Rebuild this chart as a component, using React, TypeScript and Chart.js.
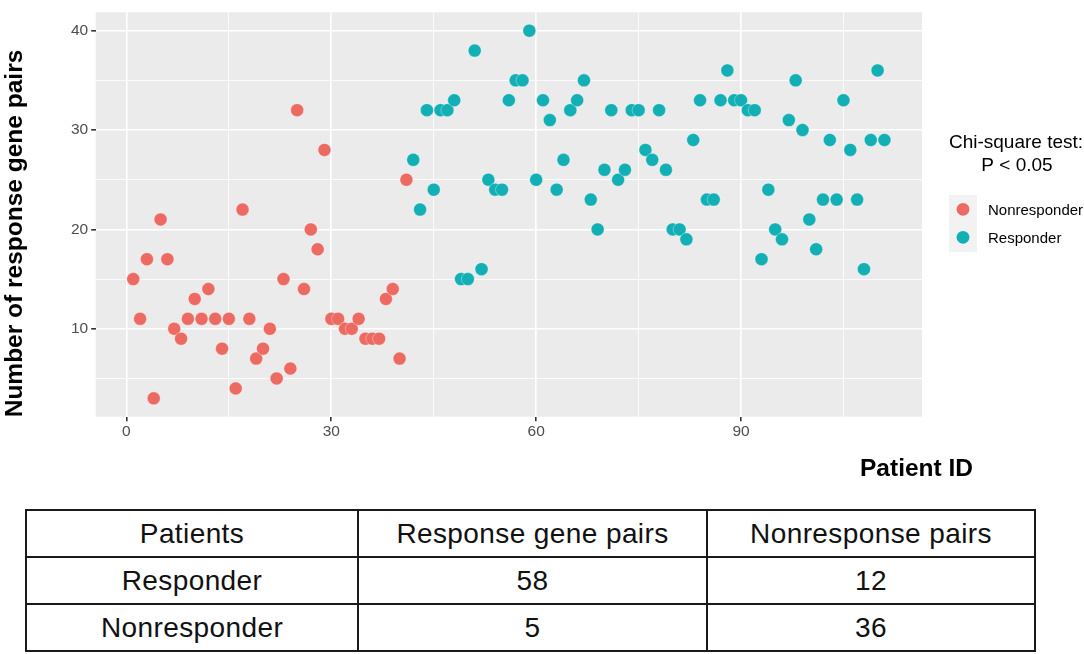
import React, { useEffect, useRef } from "react";
import { Chart, registerables } from "chart.js";

Chart.register(...registerables);

const FONT = '"Liberation Sans", Arial, Helvetica, sans-serif';

// ---- data ----
const nonresponderIds = [
  1, 2, 3, 4, 5, 6, 7, 8, 9, 10, 11, 12, 13, 14, 15, 16, 17, 18, 19, 20, 21,
  22, 23, 24, 25, 26, 27, 28, 29, 30, 31, 32, 33, 34, 35, 36, 37, 38, 39, 40, 41,
];
const nonresponderValues = [
  15, 11, 17, 3, 21, 17, 10, 9, 11, 13, 11, 14, 11, 8, 11, 4, 22, 11, 7, 8, 10,
  5, 15, 6, 32, 14, 20, 18, 28, 11, 11, 10, 10, 11, 9, 9, 9, 13, 14, 7, 25,
];
const responderIds = [
  42, 43, 44, 45, 46, 47, 48, 49, 50, 51, 52, 53, 54, 55, 56, 57, 58, 59, 60,
  61, 62, 63, 64, 65, 66, 67, 68, 69, 70, 71, 72, 73, 74, 75, 76, 77, 78, 79,
  80, 81, 82, 83, 84, 85, 86, 87, 88, 89, 90, 91, 92, 93, 94, 95, 96, 97, 98,
  99, 100, 101, 102, 103, 104, 105, 106, 107, 108, 109, 110, 111,
];
const responderValues = [
  27, 22, 32, 24, 32, 32, 33, 15, 15, 38, 16, 25, 24, 24, 33, 35, 35, 40, 25,
  33, 31, 24, 27, 32, 33, 35, 23, 20, 26, 32, 25, 26, 32, 32, 28, 27, 32, 26,
  20, 20, 19, 29, 33, 23, 23, 33, 36, 33, 33, 32, 32, 17, 24, 20, 19, 31, 35,
  30, 21, 18, 23, 29, 23, 33, 28, 23, 16, 29, 36, 29,
];

const xTicks = [0, 15, 30, 45, 60, 75, 90, 105];
const xLabelTicks = [0, 30, 60, 90];
const yTicks = [5, 10, 15, 20, 25, 30, 35, 40];
const yLabelTicks = [10, 20, 30, 40];

const seriesLabels = ["Nonresponder", "Responder"];
const seriesColors = ["#EC6A62", "#12AFB5"];

const xTitle = "Patient ID";
const yTitle = "Number of response gene pairs";
const legendTitleLines = ["Chi-square test:", "P < 0.05"];

const tableHeader = ["Patients", "Response gene pairs", "Nonresponse pairs"];
const tableRows = [
  ["Responder", "58", "12"],
  ["Nonresponder", "5", "36"],
];

const decorPlugin = {
  id: "decor",
  beforeDraw(chart: any) {
    const { ctx, chartArea: a } = chart;
    ctx.save();
    ctx.fillStyle = "#EBEBEB";
    ctx.fillRect(a.left, a.top, a.right - a.left, a.bottom - a.top);
    ctx.restore();
  },
  afterDraw(chart: any) {
    const { ctx, chartArea: a } = chart;
    ctx.save();
    ctx.fillStyle = "#000";
    ctx.font = `bold 24.5px ${FONT}`;
    ctx.textAlign = "center";
    ctx.textBaseline = "alphabetic";
    ctx.fillText(xTitle, a.right - 5.5, a.bottom + 59.5);
    ctx.save();
    ctx.translate(22, (a.top + a.bottom) / 2 + 19);
    ctx.rotate(-Math.PI / 2);
    ctx.fillText(yTitle, 0, 0);
    ctx.restore();

    // legend
    const lx = a.right + 27;
    ctx.font = `19px ${FONT}`;
    ctx.fillStyle = "#000";
    ctx.fillText(legendTitleLines[0], lx + 67, 147.7);
    ctx.fillText(legendTitleLines[1], lx + 68, 171);

    ctx.fillStyle = "#F2F2F2";
    ctx.fillRect(lx, 195, 28, 57);
    ctx.font = `15px ${FONT}`;
    ctx.textAlign = "left";
    seriesLabels.forEach((lab, i) => {
      const cy = 209.3 + i * 28;
      ctx.beginPath();
      ctx.arc(lx + 14, cy, 6.4, 0, Math.PI * 2);
      ctx.fillStyle = seriesColors[i];
      ctx.fill();
      ctx.fillStyle = "#000";
      ctx.fillText(lab, lx + 39, cy + 5.6);
    });
    ctx.restore();
  },
};

function ScatterChart() {
  const ref = useRef<HTMLCanvasElement | null>(null);
  useEffect(() => {
    if (!ref.current) return;
    const ids = [nonresponderIds, responderIds];
    const vals = [nonresponderValues, responderValues];
    const chart = new Chart(ref.current, {
      type: "scatter",
      data: {
        datasets: seriesLabels.map((label, i) => ({
          label,
          data: ids[i].map((x, j) => ({ x, y: vals[i][j] })),
          backgroundColor: seriesColors[i],
          borderColor: "rgba(255,255,255,0.35)",
          borderWidth: 1,
          pointRadius: 6.5,
          pointHoverRadius: 6.5,
        })),
      },
      options: {
        responsive: false,
        animation: false,
        events: [],
        layout: { padding: { left: 0, right: 162, top: 2.7, bottom: 53.3 } },
        plugins: {
          legend: { display: false },
          tooltip: { enabled: false },
          title: { display: false },
        },
        scales: {
          x: {
            type: "linear",
            min: -4.5,
            max: 116.5,
            afterBuildTicks: (s: any) => {
              s.ticks = xTicks.map((v) => ({ value: v }));
            },
            afterFit: (s: any) => {
              s.height = 30;
            },
            border: { display: false },
            grid: {
              color: "#FFFFFF",
              lineWidth: (c: any) =>
                xLabelTicks.includes(c.tick?.value) ? 1.6 : 0.8,
              drawTicks: true,
              tickLength: 4.5,
              tickColor: (c: any) =>
                xLabelTicks.includes(c.tick?.value) ? "#333333" : "rgba(0,0,0,0)",
              tickWidth: 1.6,
            },
            ticks: {
              autoSkip: false,
              maxRotation: 0,
              padding: 1.5,
              color: "#4D4D4D",
              font: { family: FONT, size: 15.5 },
              callback: (v: any) => (xLabelTicks.includes(v) ? String(v) : ""),
            },
          },
          y: {
            type: "linear",
            min: 1.15,
            max: 41.85,
            afterBuildTicks: (s: any) => {
              s.ticks = yTicks.map((v) => ({ value: v }));
            },
            afterFit: (s: any) => {
              s.width = 95.7;
            },
            border: { display: false },
            grid: {
              color: "#FFFFFF",
              lineWidth: (c: any) =>
                yLabelTicks.includes(c.tick?.value) ? 1.6 : 0.8,
              drawTicks: true,
              tickLength: 4.5,
              tickColor: (c: any) =>
                yLabelTicks.includes(c.tick?.value) ? "#333333" : "rgba(0,0,0,0)",
              tickWidth: 1.6,
            },
            ticks: {
              autoSkip: false,
              padding: 3,
              color: "#4D4D4D",
              font: { family: FONT, size: 15.5 },
              callback: (v: any) => (yLabelTicks.includes(v) ? String(v) : ""),
            },
          },
        },
      },
      plugins: [decorPlugin],
    });
    return () => chart.destroy();
  }, []);
  return (
    <canvas
      ref={ref}
      width={1084}
      height={500}
      style={{ position: "absolute", left: 0, top: 0, width: 1084, height: 500 }}
    />
  );
}

export default function App() {
  const cellStyle: React.CSSProperties = {
    border: "2px solid #1A1A1A",
    textAlign: "center",
    verticalAlign: "middle",
    padding: 0,
    fontFamily: FONT,
    fontSize: 28,
    letterSpacing: "0.4px",
    color: "#111",
    height: 45,
  };
  const colWidths = [332, 349, 328];
  return (
    <div
      style={{
        position: "absolute",
        left: 0,
        top: 0,
        width: 1084,
        height: 654,
        background: "#FFFFFF",
        overflow: "hidden",
      }}
    >
      <ScatterChart />
      <table
        style={{
          position: "absolute",
          left: 25,
          top: 509,
          width: 1010,
          borderCollapse: "collapse",
          tableLayout: "fixed",
        }}
      >
        <colgroup>
          {colWidths.map((w, i) => (
            <col key={i} style={{ width: w }} />
          ))}
        </colgroup>
        <tbody>
          <tr>
            {tableHeader.map((h, i) => (
              <td key={i} style={cellStyle}>
                {h}
              </td>
            ))}
          </tr>
          {tableRows.map((r, ri) => (
            <tr key={ri}>
              {r.map((c, ci) => (
                <td key={ci} style={cellStyle}>
                  {c}
                </td>
              ))}
            </tr>
          ))}
        </tbody>
      </table>
    </div>
  );
}
